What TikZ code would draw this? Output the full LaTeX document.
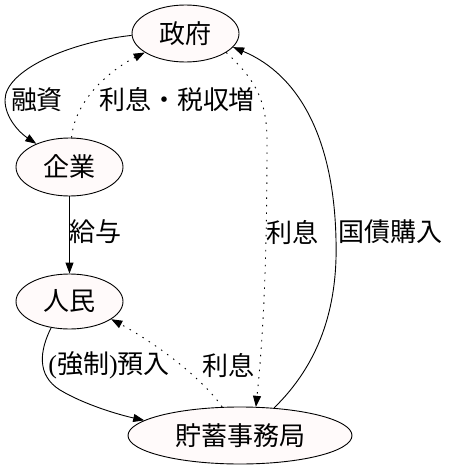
\documentclass[tikz,border=0pt]{standalone}
\usepackage{fontspec}
\setmainfont{Noto Sans CJK JP}
\newfontfamily\latfont{Liberation Serif}
\usetikzlibrary{shapes.geometric,arrows.meta}
\definecolor{nodefill}{HTML}{FFFAFA}
\tikzset{
  ent/.style={ellipse, draw, line width=0.9pt, fill=nodefill, inner sep=0pt,
              minimum height=57pt, font=\fontsize{26}{30}\selectfont},
  lbl/.style={inner sep=0pt, font=\fontsize{26}{30}\selectfont},
  flow/.style={line width=0.9pt, -{Triangle[length=11pt,width=8pt]}},
  dotflow/.style={flow, dash pattern=on 1.5pt off 6pt},
}
\begin{document}
\begin{tikzpicture}[x=1pt,y=-1pt]
\useasboundingbox (0,0) rectangle (451,469);
\node[ent, minimum width=107pt] (gov) at (185.5,33.5) {政府};
\node[ent, minimum width=107pt, minimum height=58pt] (firm) at (69.5,167) {企業};
\node[ent, minimum width=107pt, minimum height=55pt] (ppl) at (69.5,301.5) {人民};
\node[ent, minimum width=224pt] (bur) at (240,435.5) {貯蓄事務局};

\draw[flow] (gov.182) .. controls (70,42) and (5,70) .. (5,100)
  .. controls (5,118) and (20,133) .. (firm.145);
\draw[dotflow] (firm.86) .. controls (75,100) and (110,70) .. (gov.205);
\draw[dotflow] (gov.335) .. controls (250,75) and (267,95) .. (267,140)
  .. controls (267,250) and (264,330) .. (bur.61);
\draw[flow] (bur.39) .. controls (318,365) and (338,310) .. (336,240)
  .. controls (334,140) and (300,75) .. (gov.344);
\draw[flow] (firm.south) -- (ppl.north);
\draw[flow] (ppl.235) .. controls (40,350) and (36,375) .. (60,390)
  .. controls (85,405) and (120,415) .. (bur.171);
\draw[dotflow] (bur.122) .. controls (200,375) and (150,340) .. (ppl.337);

\node[lbl] (l1) at (37,100) {融資};
\node[lbl] (l2) at (177,100) {利息・税収増};
\node[lbl] (l3) at (95,232) {給与};
\node[lbl] (l4) at (292,232) {利息};
\node[lbl] (l5) at (390,232) {国債購入};
\node[lbl] (l6) at (109,365) {{\latfont (}強制{\latfont )}預入};
\node[lbl] (l7) at (228,365) {利息};
\end{tikzpicture}
\end{document}
